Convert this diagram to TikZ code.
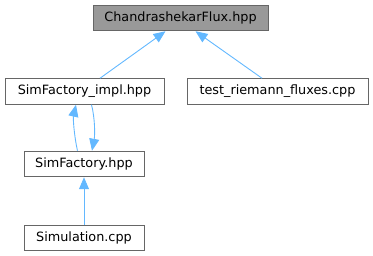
\documentclass[tikz,border=0pt]{standalone}
\usepackage{fontspec}
\setmainfont{DejaVu Sans}
\usetikzlibrary{arrows.meta,calc}
\definecolor{edgeblue}{HTML}{63B8FF}
\definecolor{boxborder}{HTML}{666666}
\definecolor{boxfill}{HTML}{999999}
\begin{document}
\begin{tikzpicture}[x=1pt,y=-1pt,
  box/.style={draw=boxborder,line width=1pt,fill=white,inner sep=0pt,minimum height=25.5pt,font=\fontsize{12.8}{15}\selectfont},
  dep/.style={draw=edgeblue,line width=0.9pt,-{Triangle[length=12pt,width=10pt]}}]
\useasboundingbox (0,0) rectangle (373,256);
\node[box,fill=boxfill,minimum width=175pt] (cf) at (180.5,18) {ChandrashekarFlux.hpp};
\node[box,minimum width=159pt] (impl) at (84.5,91.5) {SimFactory\_impl.hpp};
\node[box,minimum width=181pt] (test) at (277.5,91.5) {test\_riemann\_fluxes.cpp};
\node[box,minimum width=120pt] (sf) at (84,164) {SimFactory.hpp};
\node[box,minimum width=120pt] (sim) at (84,238) {Simulation.cpp};
\draw[dep] ($(impl.north)+(15.5,0)$) -- ($(cf.south)+(-15,0)$);
\draw[dep] ($(test.north)+(-15.5,0)$) -- ($(cf.south)+(15,0)$);
\draw[dep] ($(sf.north)+(-6.5,0)$) .. controls (74,135) and (73,118) .. ($(impl.south)+(-8.5,0)$);
\draw[dep] ($(impl.south)+(7,0)$) .. controls (95,118) and (95,135) .. ($(sf.north)+(8,0)$);
\draw[dep] (sim.north) -- (sf.south);
\end{tikzpicture}
\end{document}
